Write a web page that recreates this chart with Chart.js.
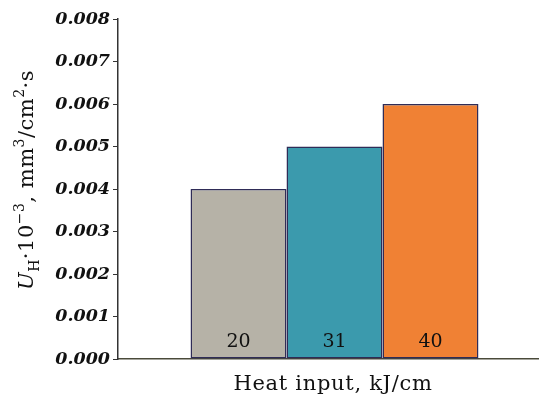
<!DOCTYPE html>
<html>
<head>
<meta charset="utf-8">
<script src="https://cdn.jsdelivr.net/npm/chart.js@4"></script>
<style>
  html, body { margin: 0; padding: 0; background: #fff; overflow: hidden; }
  /* plot runs slightly past the right edge, as in the original figure */
  #wrap { width: 551px; height: 401px; position: relative; }
</style>
</head>
<body>
<div id="wrap"><canvas id="chart"></canvas></div>
<script>
// heat input levels and wear rate values
const heatInputs = ['20', '31', '40'];
const wearRates = [0.004, 0.005, 0.006];
const barColors = ['#b6b2a7', '#3b9aad', '#f08134'];
const yTicks = [0, 0.001, 0.002, 0.003, 0.004, 0.005, 0.006, 0.007, 0.008];
const xTitle = 'Heat input, kJ/cm';

const SERIF = '"DejaVu Serif", serif';

// label inside each bar near the bottom
const barLabels = {
  id: 'barLabels',
  afterDatasetsDraw(chart) {
    const ctx = chart.ctx;
    ctx.save();
    ctx.font = '19px ' + SERIF;
    ctx.fillStyle = '#111';
    ctx.textAlign = 'center';
    ctx.textBaseline = 'middle';
    chart.data.datasets.forEach((ds, i) => {
      const bar = chart.getDatasetMeta(i).data[0];
      ctx.fillText(ds.label, bar.x, bar.base - 16);
    });
    ctx.restore();
  }
};

// axis titles: wide serif, y title with sub/superscripts
const axisTitles = {
  id: 'axisTitles',
  afterDraw(chart) {
    const ctx = chart.ctx;

    ctx.save();
    ctx.font = '21px ' + SERIF;
    ctx.letterSpacing = '0.7px';
    ctx.fillStyle = '#111';
    ctx.textAlign = 'center';
    ctx.textBaseline = 'alphabetic';
    ctx.fillText(xTitle, 333, 390);
    ctx.restore();

    const parts = [
      { t: 'U', f: 'italic 21px ' + SERIF, dy: 0 },
      { t: 'H', f: '14px ' + SERIF, dy: 6 },
      { t: '·10', f: '21px ' + SERIF, dy: 0 },
      { t: '−3', f: '14px ' + SERIF, dy: -9 },
      { t: ', mm', f: '21px ' + SERIF, dy: 0 },
      { t: '3', f: '14px ' + SERIF, dy: -9 },
      { t: '/cm', f: '21px ' + SERIF, dy: 0 },
      { t: '2', f: '14px ' + SERIF, dy: -9 },
      { t: '·s', f: '21px ' + SERIF, dy: 0 }
    ];
    ctx.save();
    ctx.letterSpacing = '0.5px';
    let total = 0;
    parts.forEach(p => { ctx.font = p.f; p.w = ctx.measureText(p.t).width; total += p.w; });
    ctx.translate(33, 180);
    ctx.rotate(-Math.PI / 2);
    ctx.fillStyle = '#111';
    ctx.textBaseline = 'alphabetic';
    let x = -total / 2;
    parts.forEach(p => {
      ctx.font = p.f;
      ctx.fillText(p.t, x, p.dy);
      x += p.w;
    });
    ctx.restore();
  }
};

const datasets = heatInputs.map((h, i) => ({
  label: h,
  data: [wearRates[i]],
  backgroundColor: barColors[i],
  borderColor: '#2f2c57',
  borderWidth: 1.5,
  borderSkipped: false,
  barPercentage: 1,
  categoryPercentage: 0.665
}));

new Chart(document.getElementById('chart'), {
  type: 'bar',
  data: { labels: [''], datasets: datasets },
  options: {
    responsive: true,
    maintainAspectRatio: false,
    animation: false,
    layout: { padding: { top: 19, right: 0, left: 0, bottom: 0 } },
    plugins: {
      legend: { display: false },
      tooltip: { enabled: false }
    },
    scales: {
      x: {
        grid: { display: false },
        border: { display: true, color: '#4a4a3a', width: 1.5 },
        ticks: { display: false },
        afterFit: s => { s.height = 42; }
      },
      y: {
        min: 0,
        max: 0.008,
        afterBuildTicks: s => { s.ticks = yTicks.map(v => ({ value: v })); },
        grid: { display: true, drawOnChartArea: false, drawTicks: true, tickLength: 5, color: '#333', width: 1.5 },
        border: { display: true, color: '#333', width: 1.5 },
        ticks: {
          padding: 3,
          color: '#111',
          font: { family: SERIF, size: 17.5, style: 'italic', weight: 'bold' },
          callback: v => v.toFixed(3)
        },
        afterFit: s => { s.width = 118; }
      }
    }
  },
  plugins: [barLabels, axisTitles]
});
</script>
</body>
</html>
